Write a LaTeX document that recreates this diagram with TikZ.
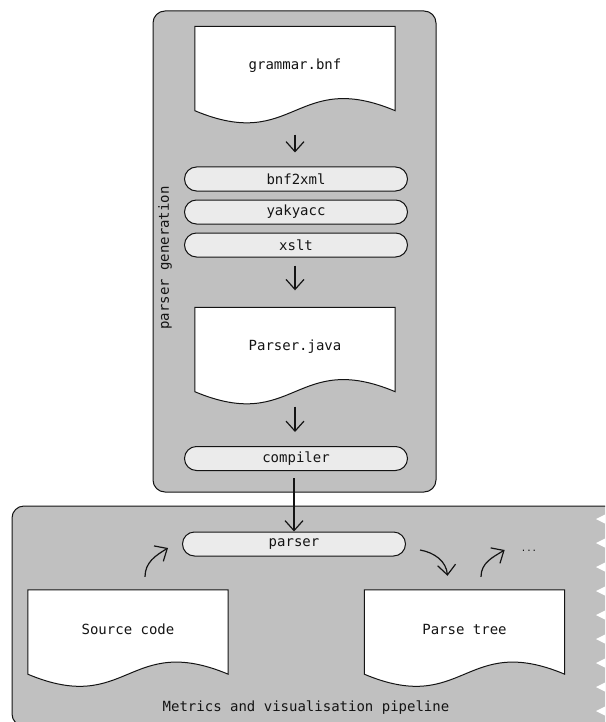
\documentclass[tikz,border=0pt]{standalone}
\usepackage{fontspec}
\setmonofont{DejaVu Sans Mono}
\usepackage{tikz}
\usetikzlibrary{arrows.meta}
\definecolor{panelgray}{RGB}{192,192,192}
\definecolor{pillgray}{RGB}{235,235,235}
\definecolor{inkline}{RGB}{20,20,20}

% paper sheet with a wavy lower edge: name, centre, text
\newcommand{\wavedoc}[3]{%
  \node[docbox] (#1) at (#2) {};
  \draw[docline] (#1.north west) -- (#1.north east) -- (#1.south east)
    .. controls ([shift={(-100pt,42pt)}]#1.south east) and ([shift={(100pt,-42pt)}]#1.south west) .. (#1.south west) -- cycle;
  \node[doctext] at ([yshift=3pt]#1.center) {#3};
}

\begin{document}
\begin{tikzpicture}[
          x=1pt, y=-1pt,
          every node/.style={font=\fontsize{14}{16}\selectfont\ttfamily, text=inkline},
          genpanel/.style={
              draw=inkline,
              fill=panelgray,
              rounded corners=12pt,
              line width=1pt,
              minimum width=283pt,
              minimum height=481pt
            },
          panelline/.style={draw=inkline, line width=1pt, rounded corners=12pt},
          docbox/.style={
              minimum width=200pt,
              minimum height=84pt,
              inner sep=0pt
            },
          docline/.style={draw=inkline, fill=white, line width=1pt},
          doctext/.style={inner sep=0pt},
          pill/.style={
              draw=inkline,
              fill=pillgray,
              rounded corners=12pt,
              line width=1pt,
              minimum width=223pt,
              minimum height=24pt,
              inner sep=0pt
            },
          arr/.style={-{Straight Barb[length=10pt,width=18pt]}, draw=inkline, line width=1.2pt}
        ]
        \useasboundingbox (0,0) rectangle (605,722);
        \clip (0,0) rectangle (605,722);

        \node[genpanel] (gen) at (294.5,251.5) {};
        \node[rotate=90] (genlabel) at (165,258) {parser generation};

        \fill[panelgray, rounded corners=12pt] (606,506) -- (12,506) -- (12,726) -- (606,726);
        \foreach \ty in {519,543,...,711}
          \fill[white] (606,\ty-5) -- (596,\ty) -- (606,\ty+5) -- cycle;
        \draw[panelline] (606,506) -- (12,506) -- (12,726) -- (606,726);
        \node (pipeline) at (306,708) {Metrics and visualisation pipeline};

        \wavedoc{grammar}{295,68.5}{grammar.bnf}
        \node[pill] (bnf) at (296,179) {bnf2xml};
        \node[pill] (yak) at (296,212) {yakyacc};
        \node[pill] (xslt) at (296,245) {xslt};
        \wavedoc{parserjava}{295,349.5}{Parser.java}
        \node[pill] (compiler) at (296,458.5) {compiler};
        \node[pill] (parser) at (294,544) {parser};
        \wavedoc{source}{128,632}{Source code}
        \wavedoc{tree}{464.5,632}{Parse tree}
        \node[font=\fontsize{9}{10}\selectfont\ttfamily, inner sep=0pt] (more) at (529,551) {...};

        \draw[arr, shorten <=24pt, shorten >=14pt] (grammar.south) -- (grammar.south |- bnf.north);
        \draw[arr, shorten <=8pt, shorten >=17pt] (xslt.south -| parserjava.north) -- (parserjava.north);
        \draw[arr, shorten <=15pt, shorten >=14pt] (parserjava.south) -- (parserjava.south |- compiler.north);
        \draw[arr, shorten <=7pt] (compiler.south -| parser.north) -- (parser.north);

        \draw[arr] ([shift={(17pt,13pt)}]source.north) to[out=90, in=211] ([shift={(-14pt,-4pt)}]parser.west);
        \draw[arr] ([shift={(14pt,-6pt)}]parser.east) to[out=-10, in=95] ([shift={(-17pt,14pt)}]tree.north);
        \draw[arr] ([shift={(16.5pt,13pt)}]tree.north) to[out=90, in=211] ([shift={(-16pt,1pt)}]more.west);
      \end{tikzpicture}
\end{document}
